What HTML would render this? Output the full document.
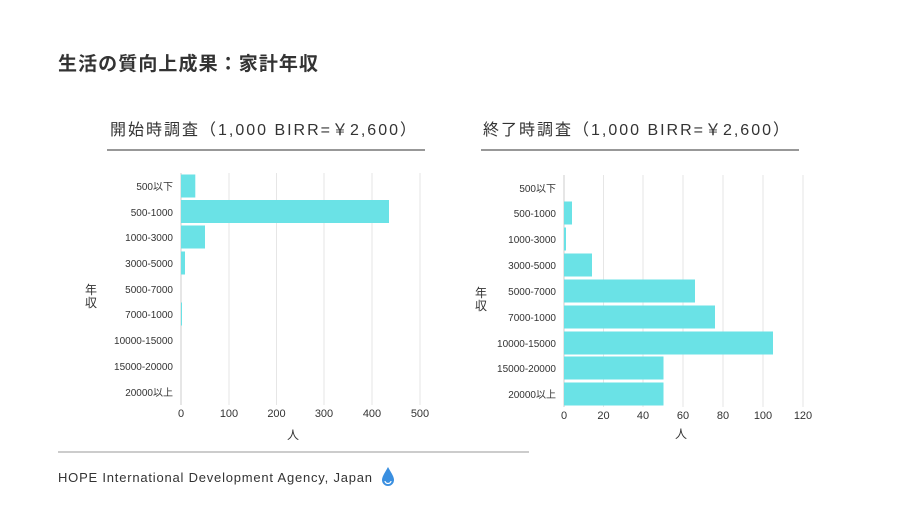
<!DOCTYPE html>
<html><head><meta charset="utf-8"><style>
body{margin:0;background:#fff}
svg{display:block}
text{font-family:"Liberation Sans","Noto Sans CJK JP",sans-serif;fill:#333}
</style></head><body>
<svg width="900" height="506" viewBox="0 0 900 506">
<text x="58" y="70" font-size="19" font-weight="bold" fill="#222" textLength="260">生活の質向上成果：家計年収</text>
<text x="110" y="135" font-size="16" fill="#444" textLength="306">開始時調査（1,000 BIRR=￥2,600）</text>
<text x="483" y="135" font-size="16" fill="#444" textLength="306">終了時調査（1,000 BIRR=￥2,600）</text>
<line x1="107" y1="150" x2="425" y2="150" stroke="#777" stroke-width="1.5"/>
<line x1="481" y1="150" x2="799" y2="150" stroke="#777" stroke-width="1.5"/>
<g stroke="#e6e6e6" stroke-width="1">
<line x1="229" y1="173" x2="229" y2="405"/><line x1="276.5" y1="173" x2="276.5" y2="405"/><line x1="324" y1="173" x2="324" y2="405"/><line x1="372" y1="173" x2="372" y2="405"/><line x1="420" y1="173" x2="420" y2="405"/>
<line x1="603.5" y1="175" x2="603.5" y2="407"/><line x1="643" y1="175" x2="643" y2="407"/><line x1="683" y1="175" x2="683" y2="407"/><line x1="723" y1="175" x2="723" y2="407"/><line x1="763" y1="175" x2="763" y2="407"/><line x1="803" y1="175" x2="803" y2="407"/>
</g>
<line x1="181" y1="173" x2="181" y2="405" stroke="#ccc"/>
<line x1="564" y1="175" x2="564" y2="407" stroke="#ccc"/>
<g fill="#6ae2e6">
<rect x="181" y="174.5" width="14.3" height="23"/>
<rect x="181" y="200" width="208" height="23"/>
<rect x="181" y="225.5" width="24" height="23"/>
<rect x="181" y="251.5" width="4" height="23"/>
<rect x="181" y="302.5" width="1" height="23"/>
<rect x="564" y="201.5" width="8" height="23"/>
<rect x="564" y="227.5" width="2" height="23"/>
<rect x="564" y="253.5" width="28" height="23"/>
<rect x="564" y="279.5" width="131" height="23"/>
<rect x="564" y="305.5" width="151" height="23"/>
<rect x="564" y="331.5" width="209" height="23"/>
<rect x="564" y="356.5" width="99.5" height="23"/>
<rect x="564" y="382.5" width="99.5" height="23"/>
</g>
<g font-size="10" text-anchor="end" fill="#222">
<text x="173" y="190">500以下</text><text x="173" y="216">500-1000</text><text x="173" y="241">1000-3000</text><text x="173" y="267">3000-5000</text><text x="173" y="293">5000-7000</text><text x="173" y="318">7000-1000</text><text x="173" y="344">10000-15000</text><text x="173" y="370">15000-20000</text><text x="173" y="396">20000以上</text>
<text x="556" y="192">500以下</text><text x="556" y="217">500-1000</text><text x="556" y="243">1000-3000</text><text x="556" y="269">3000-5000</text><text x="556" y="295">5000-7000</text><text x="556" y="321">7000-1000</text><text x="556" y="347">10000-15000</text><text x="556" y="372">15000-20000</text><text x="556" y="398">20000以上</text>
</g>
<g font-size="11" text-anchor="middle" fill="#222">
<text x="181" y="417">0</text><text x="229" y="417">100</text><text x="276.5" y="417">200</text><text x="324" y="417">300</text><text x="372" y="417">400</text><text x="420" y="417">500</text>
<text x="564" y="419">0</text><text x="603.5" y="419">20</text><text x="643" y="419">40</text><text x="683" y="419">60</text><text x="723" y="419">80</text><text x="763" y="419">100</text><text x="803" y="419">120</text>
<text x="293" y="439" font-size="12">人</text><text x="681" y="438" font-size="12">人</text>
<text x="91" y="294" font-size="12">年</text><text x="91" y="307" font-size="12">収</text>
<text x="481" y="297" font-size="12">年</text><text x="481" y="310" font-size="12">収</text>
</g>
<line x1="58" y1="452" x2="529" y2="452" stroke="#999" stroke-width="1"/>
<text x="58" y="482" font-size="13" fill="#333" textLength="314">HOPE International Development Agency, Japan</text>
<path d="M388 467 C384 474 382 477 382 480 a6 6 0 0 0 12 0 C394 477 392 474 388 467Z" fill="#3a8fe0"/>
<path d="M385 481 a3 2.5 0 0 0 6 0" fill="none" stroke="#fff" stroke-width="1.2"/>
</svg>
</body></html>
